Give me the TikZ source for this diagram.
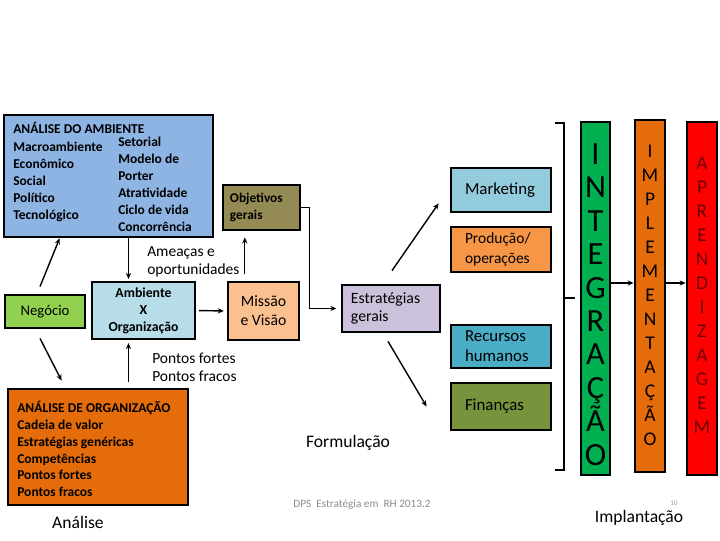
\documentclass[tikz,border=0pt]{standalone}
\usepackage{fontspec}
\setmainfont{Carlito}
\usetikzlibrary{arrows.meta, positioning, calc}

\definecolor{ambblue}{HTML}{8EB4E3}
\definecolor{objolive}{HTML}{948A54}
\definecolor{neggreen}{HTML}{92D050}
\definecolor{axoblue}{HTML}{B7DEE8}
\definecolor{mispeach}{HTML}{FAC090}
\definecolor{orgorange}{HTML}{E46C0A}
\definecolor{estrlilac}{HTML}{CCC1DA}
\definecolor{mktblue}{HTML}{93CDDD}
\definecolor{prodorange}{HTML}{F79646}
\definecolor{rhteal}{HTML}{4BACC6}
\definecolor{finolive}{HTML}{77933C}
\definecolor{intgreen}{HTML}{00B050}
\definecolor{aprred}{HTML}{FF0000}
\definecolor{aprtext}{HTML}{6A0000}

\begin{document}
\begin{tikzpicture}[x=0.025cm, y=-0.025cm,
    box/.style={draw=black, line width=2pt, inner sep=0pt},
    sz/.style 2 args={minimum width=#1*0.025cm, minimum height=#2*0.025cm},
    txt/.style={inner sep=0pt, align=left},
    lettr/.style={inner sep=0pt, align=center},
    arr/.style={line width=1pt, -{Stealth[length=1.5mm, width=1.3mm]}},
    brk/.style={line width=2pt}]
    \useasboundingbox (0,0) rectangle (720,540);

    % Analise: ambiente
    \node[box, fill=ambblue, sz={209}{122}] (amb) at (108.5,176) {};
    \node[txt, anchor=west, font=\fontsize{9.6}{12.1}\bfseries\selectfont] (ambleft) at (13,172)
        {ANÁLISE DO AMBIENTE\\Macroambiente\\Econômico\\Social\\Político\\Tecnológico};
    \node[txt, anchor=west, font=\fontsize{9.6}{12.1}\bfseries\selectfont] (ambright) at (118,184.5)
        {Setorial\\Modelo de\\Porter\\Atratividade\\Ciclo de vida\\Concorrência};

    % Analise: negocio, ambiente x organizacao, organizacao
    \node[box, fill=neggreen, sz={80}{33}, font=\fontsize{10.5}{12}\selectfont] (neg) at (45,311.5) {Negócio};
    \node[box, line width=1.5pt, fill=axoblue, sz={103}{57}, align=center,
          font=\fontsize{9.8}{12.1}\bfseries\selectfont] (axo) at (143.5,310.5) {Ambiente\\X\\Organização};
    \node[box, fill=orgorange, sz={180}{116}] (org) at (98,447) {};
    \node[txt, anchor=west, font=\fontsize{9.6}{11.95}\bfseries\selectfont] (orgtxt) at (17,449)
        {ANÁLISE DE ORGANIZAÇÃO\\Cadeia de valor\\Estratégias genéricas\\Competências\\Pontos fortes\\Pontos fracos};

    \node[txt, anchor=west, font=\fontsize{11}{12.8}\selectfont] (ameaca) at (147,262) {Ameaças e\\oportunidades};
    \node[txt, anchor=west, font=\fontsize{11}{12.8}\selectfont] (pontos) at (152,367) {Pontos fortes\\Pontos fracos};

    % Formulacao
    \node[box, fill=objolive, sz={77}{45}, inner xsep=0.175cm, text width=1.575cm, align=left,
          font=\fontsize{9.5}{12.1}\bfseries\selectfont] (obj) at (261.5,207.5) {Objetivos\\gerais};
    \node[box, fill=mispeach, sz={71}{58}, align=center, font=\fontsize{11.2}{13.5}\selectfont] (mis) at (263.5,311) {Missão\\e Visão};
    \node[box, fill=estrlilac, sz={98}{47}, inner xsep=0.225cm, text width=2cm, align=left,
          font=\fontsize{11.2}{12.8}\selectfont] (estr) at (391,308.5) {Estratégias\\gerais};

    \node[box, fill=mktblue, sz={100}{44}, inner xsep=0.35cm, text width=1.8cm, align=left,
          font=\fontsize{12}{14}\selectfont] (mkt) at (501,190) {Marketing};
    \node[box, fill=prodorange, sz={100}{45}, inner xsep=0.35cm, text width=1.8cm, align=left,
          font=\fontsize{11}{14.2}\selectfont] (prod) at (501,249.5) {Produção/\\operações};
    \node[box, fill=rhteal, sz={100}{43}, inner xsep=0.35cm, text width=1.8cm, align=left,
          font=\fontsize{12}{14.2}\selectfont] (rh) at (501,346.5) {Recursos\\humanos};
    \node[box, fill=finolive, sz={100}{47}, inner xsep=0.35cm, text width=1.8cm, align=left,
          font=\fontsize{12}{14}\selectfont] (fin) at (501,406.5) {Finanças};

    % Implantacao
    \node[box, fill=intgreen, sz={29}{353}] (integ) at (595.5,298.5) {};
    \node[lettr, font=\fontsize{23}{23.8}\selectfont] (integt) at (595.5,304.5) {I\\N\\T\\E\\G\\R\\A\\Ç\\Ã\\O};
    \node[box, fill=orgorange, sz={30}{352}] (impl) at (650,296) {};
    \node[lettr, font=\fontsize{13.8}{17.1}\selectfont] (implt) at (650,295.5) {I\\M\\P\\L\\E\\M\\E\\N\\T\\A\\Ç\\Ã\\O};
    \node[box, fill=aprred, sz={30}{353}] (apr) at (702,298.5) {};
    \node[lettr, text=aprtext, font=\fontsize{13.8}{17.1}\selectfont] (aprt) at (702,295.5) {A\\P\\R\\E\\N\\D\\I\\Z\\A\\G\\E\\M};

    % Rotulos
    \node[font=\fontsize{12.5}{14}\selectfont, inner sep=0pt] (lanalise) at (78,522) {Análise};
    \node[font=\fontsize{12.5}{14}\selectfont, inner sep=0pt] (lform) at (348,443) {Formulação};
    \node[font=\fontsize{12.5}{14}\selectfont, inner sep=0pt] (limpl) at (639,518) {Implantação};
    \node[font=\fontsize{8}{9}\selectfont, text=black!45, inner sep=0pt] (ldps) at (362,505) {DPS\ \ Estratégia em\ \ RH 2013.2};
    \node[font=\fontsize{5}{6}\selectfont, text=black!40, inner sep=0pt] (lnum) at (674,503) {10};

    % Conectores
    \coordinate (ambneg) at ($(amb.south west)+(57,0)$);
    \coordinate (orgneg) at ($(org.north west)+(55,-7)$);
    \coordinate (axon) at ($(axo.north)+(-15,-2)$);
    \coordinate (axos) at ($(axo.south)+(-15,3)$);
    \coordinate (ameend) at ($(ameaca.south east)+(5,-3)$);
    \coordinate (lvl) at (0,283);

    \draw[arr] (neg.north) ++(-5,-7) -- (ambneg);
    \draw[arr] (neg.south) ++(-5,9) -- (orgneg);
    \draw[arr] (axon |- amb.south) -- (axon);
    \draw[arr] ($(axos |- org.north)+(0,-6)$) -- (axos);
    \draw[arr, shorten <=2pt, shorten >=2pt] (axo.east) -- (mis.west);
    \draw[arr] (ameend) -- ($(ameend |- obj.south)+(0,6)$);
    \draw[arr, line width=0.6pt, shorten >=3pt] (obj.east) -- ++(8,0) |- (estr.west);
    \draw[arr] (estr.north) ++(1,-13) -- ($(mkt.south west)+(-11,-10)$);
    \draw[arr] (estr.south) ++(-3,8) -- ($(fin.west)+(-23,0)$);

    \draw[brk] (555,123) -- (564,123) -- (564,470) -- (555,470);
    \draw[brk] (564,298) -- (575,298);
    \draw[arr] (integ.east |- lvl) -- (impl.west |- lvl);
    \draw[arr] (impl.east |- lvl) -- (apr.west |- lvl);
\end{tikzpicture}
\end{document}
